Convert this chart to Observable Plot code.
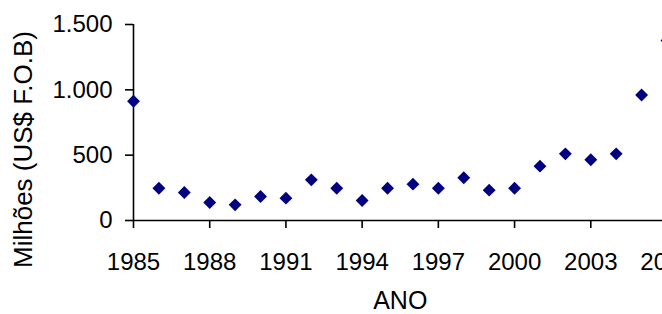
<!DOCTYPE html>
<html>
<head>
<meta charset="utf-8">
<script src="https://cdn.jsdelivr.net/npm/d3@7"></script>
<script src="https://cdn.jsdelivr.net/npm/@observablehq/plot@0.6"></script>
<style>
  html, body { margin: 0; padding: 0; background: #fff; overflow: hidden; }
  #chart svg { display: block; }
</style>
</head>
<body>
<div id="chart"></div>
<script>
const years = [1985, 1986, 1987, 1988, 1989, 1990, 1991, 1992, 1993, 1994, 1995,
               1996, 1997, 1998, 1999, 2000, 2001, 2002, 2003, 2004, 2005, 2006];
const values = [913, 247, 214, 138, 120, 184, 171, 311, 247, 153, 247,
                278, 247, 327, 232, 247, 416, 510, 465, 510, 960, 1378];
const xTicks = [1985, 1988, 1991, 1994, 1997, 2000, 2003, 2006];
const yTicks = [0, 500, 1000, 1500];
const yLabel = "Milhões (US$ F.O.B)";
const xLabel = "ANO";

const data = years.map((y, i) => ({ano: y, valor: values[i]}));
const fmtY = d => d >= 1000 ? d3.format(",")(d).replace(/,/g, ".") : String(d);

const chart = Plot.plot({
  width: 662,
  height: 314,
  marginLeft: 133,
  marginRight: -4.5,
  marginTop: 24,
  marginBottom: 94,
  style: {fontFamily: "'Liberation Sans', Arial, sans-serif", fontSize: "24px", color: "#000", background: "#fff"},
  x: {domain: [1985, 2006]},
  y: {domain: [0, 1500]},
  marks: [
    Plot.ruleY([0], {stroke: "#000", strokeWidth: 1.6}),
    Plot.ruleX([1985], {stroke: "#000", strokeWidth: 1.6}),
    Plot.axisX({ticks: xTicks, tickFormat: d => String(d), tickSize: 8, tickPadding: 24, fontSize: 24, strokeWidth: 1.6, label: null}),
    Plot.axisY({ticks: yTicks, tickFormat: fmtY, tickSize: 8, tickPadding: 13, fontSize: 24, strokeWidth: 1.6, label: null}),
    Plot.dot(data, {x: "ano", y: "valor", symbol: "diamond2", r: 5.8, fill: "#000080", stroke: "none"}),
    Plot.text([yLabel], {frameAnchor: "left", rotate: -90, dx: -110, dy: 27, textAnchor: "middle", lineAnchor: "middle", fontSize: 26, fill: "#000"}),
    Plot.text([xLabel], {frameAnchor: "bottom", dy: 80, textAnchor: "middle", lineAnchor: "middle", fontSize: 25, fill: "#000"})
  ]
});
document.getElementById("chart").appendChild(chart);
</script>
</body>
</html>
